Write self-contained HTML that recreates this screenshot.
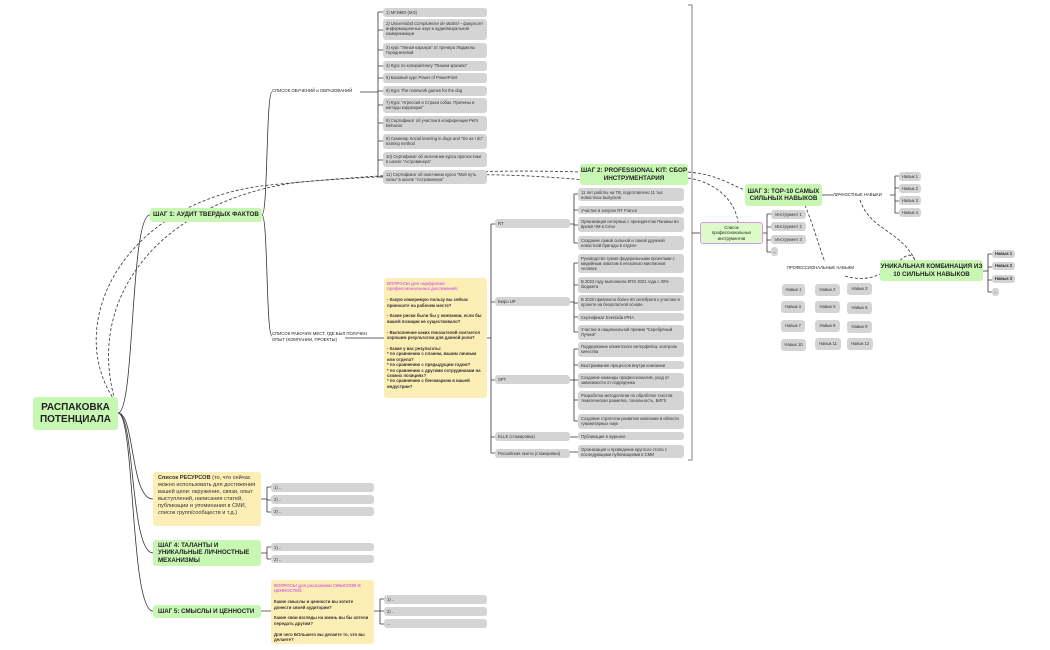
<!DOCTYPE html>
<html><head><meta charset="utf-8"><style>
body{margin:0;width:1050px;height:650px;background:#fff;position:relative;overflow:hidden;font-family:"Liberation Sans","Noto Sans CJK SC",sans-serif;color:#333}
.b{position:absolute;background:#d4d4d4;border-radius:3px;font-size:4.2px;line-height:5.2px;padding:1.5px 3px;box-sizing:border-box;overflow:hidden}
.n{white-space:nowrap;padding:0 2px;display:flex;align-items:center;justify-content:center}
.g{position:absolute;background:#c8f7b4;border-radius:3px;font-weight:bold;font-size:7px;line-height:8px;box-sizing:border-box;display:flex;align-items:center;justify-content:center;text-align:center;color:#222}
.y{position:absolute;background:#fdeeb5;border-radius:3px;font-size:4.3px;line-height:5.4px;padding:3px;box-sizing:border-box;color:#333}
.t{position:absolute;font-size:4.5px;line-height:5.6px;color:#222}
.v{color:#d86ae0}
svg{position:absolute;left:0;top:0}
</style></head><body>
<svg width="1050" height="650" fill="none" stroke="#333" stroke-width="0.8">
<path d="M118 413 C135 413 130 215 150 215"/>
<path d="M118 413 C135 413 130 499 153 499"/>
<path d="M118 413 C135 413 130 553 153 553"/>
<path d="M118 413 C135 413 130 611 153 611"/>
<path d="M262 215 C268 215 266 92 272 92"/>
<path d="M262 215 C268 215 266 336 272 336"/>
<path d="M360 92 H378 M378 12 V177 M378 12 H383 M378 30 H383 M378 50 H383 M378 66 H383 M378 78 H383 M378 91 H383 M378 105 H383 M378 123 H383 M378 141 H383 M378 160 H383 M378 177 H383"/>
<path d="M345 338 H384 M487 338 H491 M491 224 V453 M491 224 H495 M491 302 H495 M491 380 H495 M491 437 H495 M491 453 H495"/>
<path d="M570 224 H574 M574 194 V243 M574 194 H578 M574 210 H578 M574 225 H578 M574 243 H578"/>
<path d="M570 302 H574 M574 263 V332 M574 263 H578 M574 285 H578 M574 303 H578 M574 317 H578 M574 332 H578"/>
<path d="M570 380 H574 M574 349 V421 M574 349 H578 M574 365 H578 M574 380 H578 M574 400 H578 M574 421 H578"/>
<path d="M570 437 H578 M570 452 H578"/>
<path d="M688 5 H692 V460 H688" stroke="#999" stroke-width="1.2"/>
<path d="M692 233 H700"/>
<path d="M763 233 H767 M767 214 V252 M767 214 H771 M767 227 H771 M767 240 H771 M767 252 H771"/>
<path d="M822 195 H833 M890 195 H895 M895 176 V213 M895 176 H899 M895 188 H899 M895 201 H899 M895 213 H899"/>
<path d="M983 271 H988 M988 254 V292 M988 254 H992 M988 267 H992 M988 280 H992 M988 292 H992"/>
<path d="M261 499 H267 M267 487 V512 M267 487 H271 M267 500 H271 M267 512 H271"/>
<path d="M261 553 H267 M267 547 V559 M267 547 H271 M267 559 H271"/>
<path d="M261 611 H271 M374 611 H380 M380 599 V624 M380 599 H384 M380 611 H384 M380 624 H384"/>
<g stroke-dasharray="3 2">
<path d="M118 405 C60 330 120 200 270 185 C420 170 520 170 580 172"/>
<path d="M118 410 C80 300 160 200 300 182 C450 170 530 175 585 180"/>
<path d="M688 172 C720 175 730 185 745 190"/>
<path d="M688 178 C715 182 735 200 738 222"/>
<path d="M805 205 C815 230 820 250 825 262"/>
<path d="M860 200 C870 230 900 230 915 260"/>
<path d="M845 276 C890 290 905 240 915 260"/>
</g>
</svg>

<div class="g" style="left:33px;top:397px;width:85px;height:33px;font-size:10px;line-height:12px">РАСПАКОВКА ПОТЕНЦИАЛА</div>
<div class="g" style="left:150px;top:208px;width:112px;height:14px;font-size:6.3px">ШАГ 1: АУДИТ ТВЕРДЫХ ФАКТОВ</div>
<div class="t" style="left:272px;top:88px;font-size:4.3px">СПИСОК ОБУЧЕНИЙ и ОБРАЗОВАНИЙ</div>
<div class="t" style="left:272px;top:331px;width:100px;font-size:4.3px">СПИСОК РАБОЧИХ МЕСТ, ГДЕ БЫЛ ПОЛУЧЕН ОПЫТ (КОМПАНИИ, ПРОЕКТЫ)</div>

<div class="b" style="left:383px;top:8px;width:104px;height:9px">1) МГИМО (МЭ)</div>
<div class="b" style="left:383px;top:19px;width:104px;height:21px;padding-top:2px"><i>2) Universidad Complutense de Madrid</i> – факультет информационных наук и аудиовизуальной коммуникации</div>
<div class="b" style="left:383px;top:43px;width:104px;height:15px">3) курс "Умная карьера" от тренера Людмилы Городничевой</div>
<div class="b" style="left:383px;top:61px;width:104px;height:10px">4) Курс по копирайтингу "Пишем красиво"</div>
<div class="b" style="left:383px;top:73px;width:104px;height:10px">5) Базовый курс Power of PowerPoint</div>
<div class="b" style="left:383px;top:86px;width:104px;height:10px">6) Курс The nosework games for the dog</div>
<div class="b" style="left:383px;top:98px;width:104px;height:15px">7) Курс "Агрессия и Страхи собак. Причины и методы коррекции"</div>
<div class="b" style="left:383px;top:116px;width:104px;height:15px">8) Сертификат об участии в конференции Pet's Behavior</div>
<div class="b" style="left:383px;top:134px;width:104px;height:15px">9) Семинар Social learning in dogs and "Do as I do" training method</div>
<div class="b" style="left:383px;top:152px;width:104px;height:15px">10) Сертификат об окончании курса прогностики в школе "Астровинера"</div>
<div class="b" style="left:383px;top:170px;width:104px;height:14px">11) Сертификат об окончании курса "Мой путь силы" в школе "Астровинера"</div>

<div class="y" style="left:384px;top:278px;width:103px;height:120px;font-weight:bold"><span class="v">ВОПРОСЫ для оцифровки профессиональных достижений:</span><br><br>- Какую измеримую пользу вы сейчас приносите на рабочем месте?<br><br>- Какие риски были бы у компании, если бы вашей позиции не существовало?<br><br>- Выполнение каких показателей считается хорошим результатом для данной роли?<br><br>- Какие у вас результаты:<br>* по сравнению с планом, вашим личным или отдела?<br>* по сравнению с предыдущим годом?<br>* по сравнению с другими сотрудниками на схожих позициях?<br>* по сравнению с бенчмарком в вашей индустрии?</div>

<div class="b" style="left:495px;top:219px;width:75px;height:9px">RT</div>
<div class="b" style="left:495px;top:297px;width:75px;height:9px">Бюро UP</div>
<div class="b" style="left:495px;top:375px;width:75px;height:9px">SPT</div>
<div class="b" style="left:495px;top:432px;width:75px;height:9px">ELLE (стажировка)</div>
<div class="b" style="left:495px;top:449px;width:75px;height:9px">Российская газета (стажировка)</div>

<div class="b" style="left:578px;top:188px;width:106px;height:13px">11 лет работы на ТВ, подготовлено 11 тыс новостных выпусков</div>
<div class="b" style="left:578px;top:206px;width:106px;height:8px">Участие в запуске RT France</div>
<div class="b" style="left:578px;top:217px;width:106px;height:15px">Организация интервью с президентом Панамы во время ЧМ в Сочи</div>
<div class="b" style="left:578px;top:236px;width:106px;height:14px">Создание самой сильной и самой дружной новостной бригады в отделе</div>
<div class="b" style="left:578px;top:254px;width:106px;height:19px">Руководство тремя федеральными проектами с медийным охватом в несколько миллионов человек</div>
<div class="b" style="left:578px;top:277px;width:106px;height:16px">В 2022 году выполнила КПЭ 2021 года с 30% бюджета</div>
<div class="b" style="left:578px;top:295px;width:106px;height:16px">В 2020 привлекла более 60 селебрити к участию в проекте на безоплатной основе</div>
<div class="b" style="left:578px;top:313px;width:106px;height:8px">Сертификат Eventiida IPRA</div>
<div class="b" style="left:578px;top:325px;width:106px;height:15px">Участие в национальной премии "Серебряный Лучник"</div>
<div class="b" style="left:578px;top:342px;width:106px;height:15px">Поддержание клиентского интерфейса, контроль качества</div>
<div class="b" style="left:578px;top:361px;width:106px;height:8px">Выстраивание процессов внутри компании</div>
<div class="b" style="left:578px;top:373px;width:106px;height:15px">Создание команды профессионалов, уход от зависимости от подрядчика</div>
<div class="b" style="left:578px;top:391px;width:106px;height:19px">Разработка методологии по обработке текстов: тематическая разметка, тональность, БИГ5</div>
<div class="b" style="left:578px;top:414px;width:106px;height:15px">Создание стратегии развития компании в области гуманитарных наук</div>
<div class="b" style="left:578px;top:432px;width:106px;height:8px">Публикация в журнале</div>
<div class="b" style="left:578px;top:445px;width:106px;height:13px">Организация и проведение круглого стола с последующими публикациями в СМИ</div>

<div class="g" style="left:580px;top:164px;width:108px;height:21px;font-size:6.3px;line-height:7.5px">ШАГ 2: PROFESSIONAL KIT: СБОР ИНСТРУМЕНТАРИЯ</div>
<div class="g" style="left:745px;top:184px;width:77px;height:22px;font-size:6.3px;line-height:7.5px">ШАГ 3: TOP-10 САМЫХ СИЛЬНЫХ НАВЫКОВ</div>
<div class="t" style="left:833px;top:192px;font-size:4.2px">ЛИЧНОСТНЫЕ НАВЫКИ</div>
<div class="b n" style="left:899px;top:172px;width:22px;height:9px">Навык 1</div>
<div class="b n" style="left:899px;top:184px;width:22px;height:9px">Навык 2</div>
<div class="b n" style="left:899px;top:196px;width:22px;height:9px">Навык 3</div>
<div class="b n" style="left:899px;top:208px;width:22px;height:9px">Навык 4</div>
<div class="g" style="left:700px;top:222px;width:63px;height:22px;background:#dcfbc8;border:1px solid #d49ae6;font-weight:normal;font-size:4.3px;line-height:5.6px;padding:0 4px">Список профессиональных инструментов</div>
<div class="b n" style="left:771px;top:210px;width:35px;height:9px">Инструмент 1</div>
<div class="b n" style="left:771px;top:222px;width:35px;height:9px">Инструмент 2</div>
<div class="b n" style="left:771px;top:235px;width:35px;height:9px">Инструмент 3</div>
<div class="b n" style="left:771px;top:247px;width:7px;height:9px">...</div>
<div class="t" style="left:787px;top:265px;font-size:4.2px">ПРОФЕССИОНАЛЬНЫЕ НАВЫКИ</div>
<div class="b n" style="left:782px;top:284px;width:23px;height:12px">Навык 1</div>
<div class="b n" style="left:815px;top:284px;width:25px;height:12px">Навык 2</div>
<div class="b n" style="left:847px;top:283px;width:25px;height:12px">Навык 3</div>
<div class="b n" style="left:781px;top:301px;width:24px;height:12px">Навык 4</div>
<div class="b n" style="left:815px;top:301px;width:25px;height:12px">Навык 5</div>
<div class="b n" style="left:847px;top:302px;width:25px;height:12px">Навык 6</div>
<div class="b n" style="left:781px;top:320px;width:24px;height:12px">Навык 7</div>
<div class="b n" style="left:815px;top:320px;width:25px;height:12px">Навык 8</div>
<div class="b n" style="left:847px;top:321px;width:25px;height:12px">Навык 9</div>
<div class="b n" style="left:781px;top:339px;width:25px;height:12px">Навык 10</div>
<div class="b n" style="left:815px;top:338px;width:26px;height:12px">Навык 11</div>
<div class="b n" style="left:847px;top:338px;width:26px;height:12px">Навык 12</div>
<div class="g" style="left:880px;top:260px;width:103px;height:21px;font-size:6.3px;line-height:7.5px">УНИКАЛЬНАЯ КОМБИНАЦИЯ ИЗ 10 СИЛЬНЫХ НАВЫКОВ</div>
<div class="b n" style="left:992px;top:250px;width:23px;height:8px;font-weight:bold">Навык 1</div>
<div class="b n" style="left:992px;top:262px;width:23px;height:8px;font-weight:bold">Навык 2</div>
<div class="b n" style="left:992px;top:275px;width:23px;height:8px;font-weight:bold">Навык 3</div>
<div class="b n" style="left:992px;top:288px;width:7px;height:8px">...</div>

<div class="y" style="left:153px;top:472px;width:108px;height:54px;font-size:5.6px;line-height:6.9px;padding:3px 5px"><b>Список РЕСУРСОВ</b> (то, что сейчас можно использовать для достижения вашей цели: окружение, связи, опыт выступлений, написания статей, публикации и упоминания в СМИ, список групп/сообществ и т.д.)</div>
<div class="b" style="left:271px;top:483px;width:103px;height:9px">1) ..</div>
<div class="b" style="left:271px;top:495px;width:103px;height:9px">2) ..</div>
<div class="b" style="left:271px;top:507px;width:103px;height:9px">3) ..</div>
<div class="g" style="left:153px;top:540px;width:108px;height:26px;justify-content:flex-start;text-align:left;padding:0 5px;font-size:6.2px;line-height:7.3px">ШАГ 4: ТАЛАНТЫ И<br>УНИКАЛЬНЫЕ ЛИЧНОСТНЫЕ<br>МЕХАНИЗМЫ</div>
<div class="b" style="left:271px;top:543px;width:103px;height:8px">1) ..</div>
<div class="b" style="left:271px;top:555px;width:103px;height:8px">2) ..</div>
<div class="g" style="left:153px;top:605px;width:108px;height:13px;justify-content:flex-start;padding:0 5px;font-size:6.2px">ШАГ 5: СМЫСЛЫ И ЦЕННОСТИ</div>
<div class="y" style="left:271px;top:580px;width:103px;height:64px;font-weight:bold"><span class="v">ВОПРОСЫ для распаковки СМЫСЛОВ И ЦЕННОСТЕЙ:</span><br><br>Какие смыслы и ценности вы хотите донести своей аудитории?<br><br>Какие свои взгляды на жизнь вы бы хотели передать другим?<br><br>Для чего БОльшего вы делаете то, что вы делаете?</div>
<div class="b" style="left:384px;top:595px;width:103px;height:9px">1) ..</div>
<div class="b" style="left:384px;top:607px;width:103px;height:9px">2) ..</div>
<div class="b" style="left:384px;top:619px;width:103px;height:9px">...</div>
</body></html>
